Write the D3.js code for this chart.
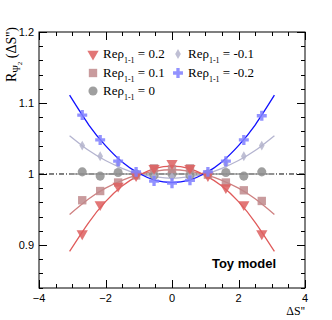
<!DOCTYPE html>
<html><head><meta charset="utf-8">
<script src="https://cdn.jsdelivr.net/npm/d3@7"></script>
<style>body{margin:0;background:#fff}svg{display:block}</style>
</head><body><svg id="c" width="332" height="320"></svg>
<script>
// ---- data ----
const pointX = [-2.7, -2.16, -1.62, -1.08, -0.54, 0, 0.54, 1.08, 1.62, 2.16, 2.7];
const seriesNames = ["0.2", "0.1", "0", "-0.1", "-0.2"];
const valsP02 = [0.916, 0.957, 0.983, 0.998, 1.008, 1.015, 1.008, 0.998, 0.981, 0.957, 0.916];
const valsP01 = [0.963, 0.976, 0.988, 0.998, 1.008, 1.007, 1.008, 0.999, 0.988, 0.977, 0.962];
const valsZero = [1.003, 0.997, 1.002, 1.000, 0.998, 1.000, 0.998, 1.000, 1.002, 0.997, 1.003];
const valsM01 = [1.040, 1.025, 1.014, 1.000, 0.997, 0.996, 0.997, 1.000, 1.014, 1.025, 1.040];
const valsM02 = [1.083, 1.048, 1.018, 1.003, 0.990, 0.987, 0.991, 1.003, 1.018, 1.048, 1.082];
const curveX = [-3.08, -2.5, -2, -1.5, -1, -0.5, 0, 0.5, 1, 1.5, 2, 2.5, 3.08];
const curveP02 = [0.891, 0.932, 0.961, 0.983, 0.998, 1.008, 1.011, 1.008, 0.998, 0.983, 0.961, 0.932, 0.891];
const curveP01 = [0.943, 0.965, 0.980, 0.991, 0.999, 1.004, 1.006, 1.004, 0.999, 0.991, 0.980, 0.965, 0.943];
const curveZero = [1, 1, 1, 1, 1, 1, 1, 1, 1, 1, 1, 1, 1];
const curveM01 = [1.054, 1.033, 1.019, 1.008, 1.000, 0.996, 0.994, 0.996, 1.000, 1.008, 1.019, 1.033, 1.054];
const curveM02 = [1.111, 1.069, 1.040, 1.017, 1.001, 0.991, 0.988, 0.991, 1.001, 1.017, 1.040, 1.069, 1.111];
const xTicks = [-4, -2, 0, 2, 4];
const yTicks = [0.9, 1, 1.1, 1.2];

const svg = d3.select("#c");
const L = 39, R = 305, T = 32, B = 288;
const x = d3.scaleLinear().domain([-4, 4]).range([L, R]);
const y = d3.scaleLinear().domain([0.8394, 1.2]).range([B, T]);

const series = [
  {name: "0.2", pts: valsP02, crv: curveP02, line: "#e05a5a", fill: "#dd5f5f", sym: d3.symbolTriangle, size: 55, rot: 180},
  {name: "0.1", pts: valsP01, crv: curveP01, line: "#cf8080", fill: "#c08a8c", sym: d3.symbolSquare, size: 70, rot: 0},
  {name: "0", pts: valsZero, crv: curveZero, line: "#9a9a9a", fill: "#8e8e8e", sym: d3.symbolCircle, size: 65, rot: 0},
  {name: "-0.1", pts: valsM01, crv: curveM01, line: "#b4b4d0", fill: "#b4b4cc", sym: d3.symbolDiamond, size: 28, rot: 0},
  {name: "-0.2", pts: valsM02, crv: curveM02, line: "#1010ff", fill: "#7f7fff", sym: d3.symbolCross, size: 55, rot: 0}
];

// clip
svg.append("defs").append("clipPath").attr("id","clp").append("rect")
  .attr("x", L).attr("y", T).attr("width", R-L).attr("height", B-T);

// dash-dot line at 1
svg.append("line").attr("x1", L).attr("x2", R).attr("y1", y(1)).attr("y2", y(1))
  .attr("stroke", "#000").attr("stroke-width", 1).attr("stroke-dasharray", "5,2,1,2");

const g = svg.append("g").attr("clip-path", "url(#clp)");
const lineGen = d3.line().curve(d3.curveNatural);
const drawOrder = [2, 3, 1, 0, 4];
drawOrder.forEach(i => {
  const s = series[i];
  g.append("path").attr("d", lineGen(curveX.map((cx, j) => [x(cx), y(s.crv[j])])))
    .attr("fill", "none").attr("stroke", s.line).attr("stroke-width", 1.3);
});
drawOrder.forEach(i => {
  const s = series[i];
  const sym = d3.symbol().type(s.sym).size(s.size);
  g.selectAll(null).data(pointX).enter().append("path")
    .attr("d", sym)
    .attr("transform", (d, j) => `translate(${x(d)},${y(s.pts[j])}) rotate(${s.rot})`)
    .attr("fill", s.fill).attr("fill-opacity", 0.85);
});

// frame
svg.append("rect").attr("x", L).attr("y", T).attr("width", R-L).attr("height", B-T)
  .attr("fill", "none").attr("stroke", "#000").attr("stroke-width", 1);

// ticks
const tk = svg.append("g").attr("stroke", "#000").attr("stroke-width", 1);
for (let v = -4; v <= 4.001; v += 0.5) {
  const major = Math.abs(v - Math.round(v/2)*2) < 1e-6;
  const len = major ? 8 : 4;
  const px = Math.round(x(v)) + 0.5;
  tk.append("line").attr("x1", px).attr("x2", px).attr("y1", B).attr("y2", B - len);
  tk.append("line").attr("x1", px).attr("x2", px).attr("y1", T).attr("y2", T + len);
}
for (let k = 42; k <= 120; k += 2) {
  const v = k / 100;
  if (v < 0.84 || v > 1.2) continue;
  const major = k % 10 === 0;
  const len = major ? 8 : 4;
  const py = Math.round(y(v)) + 0.5;
  tk.append("line").attr("x1", L).attr("x2", L + len).attr("y1", py).attr("y2", py);
  tk.append("line").attr("x1", R).attr("x2", R - len).attr("y1", py).attr("y2", py);
}

// tick labels
const sans = "'Liberation Sans', Arial, sans-serif";
svg.selectAll(".xl").data(xTicks).enter().append("text")
  .attr("x", d => x(d)).attr("y", 302).attr("text-anchor", "middle")
  .attr("font-family", sans).attr("font-size", 11)
  .text(d => d < 0 ? "\u2212" + Math.abs(d) : d);
svg.selectAll(".yl").data(yTicks).enter().append("text")
  .attr("x", 34).attr("y", d => y(d) + 4).attr("text-anchor", "end")
  .attr("font-family", sans).attr("font-size", 11)
  .text(d => d === 1 ? "1" : d.toFixed(1));

// axis titles
const serif = "'Liberation Serif', 'DejaVu Serif', serif";
const yt = svg.append("text").attr("transform", "translate(16,27) rotate(-90)")
  .attr("text-anchor", "end").attr("font-family", serif).attr("font-size", 14);
yt.append("tspan").text("R");
yt.append("tspan").attr("dy", 4).attr("font-size", 10).text("\u03A8");
yt.append("tspan").attr("dy", 2).attr("font-size", 7).text("2");
yt.append("tspan").attr("dy", -6).text(" (\u0394S'')");

svg.append("text").attr("x", 305).attr("y", 315).attr("text-anchor", "end")
  .attr("font-family", serif).attr("font-size", 12).text("\u0394S''");

// Toy model
svg.append("text").attr("x", 276).attr("y", 268).attr("text-anchor", "end")
  .attr("font-family", sans).attr("font-size", 13).attr("font-weight", "bold").text("Toy model");

// legend
const legPos = [[93, 54], [93, 73], [93, 91], [178, 54], [178, 73]];
series.forEach((s, i) => {
  const [lx, ly] = legPos[i];
  const sym = d3.symbol().type(s.sym).size(s.size);
  svg.append("path").attr("d", sym).attr("transform", `translate(${lx},${ly}) rotate(${s.rot})`)
    .attr("fill", s.fill).attr("fill-opacity", 0.85);
  const t = svg.append("text").attr("x", lx + 10).attr("y", ly + 4)
    .attr("font-family", serif).attr("font-size", 13);
  t.append("tspan").text("Re\u03C1");
  t.append("tspan").attr("dy", 5).attr("font-size", 8).text("1-1");
  t.append("tspan").attr("dy", -5).text(" = " + s.name);
});
</script></body></html>
